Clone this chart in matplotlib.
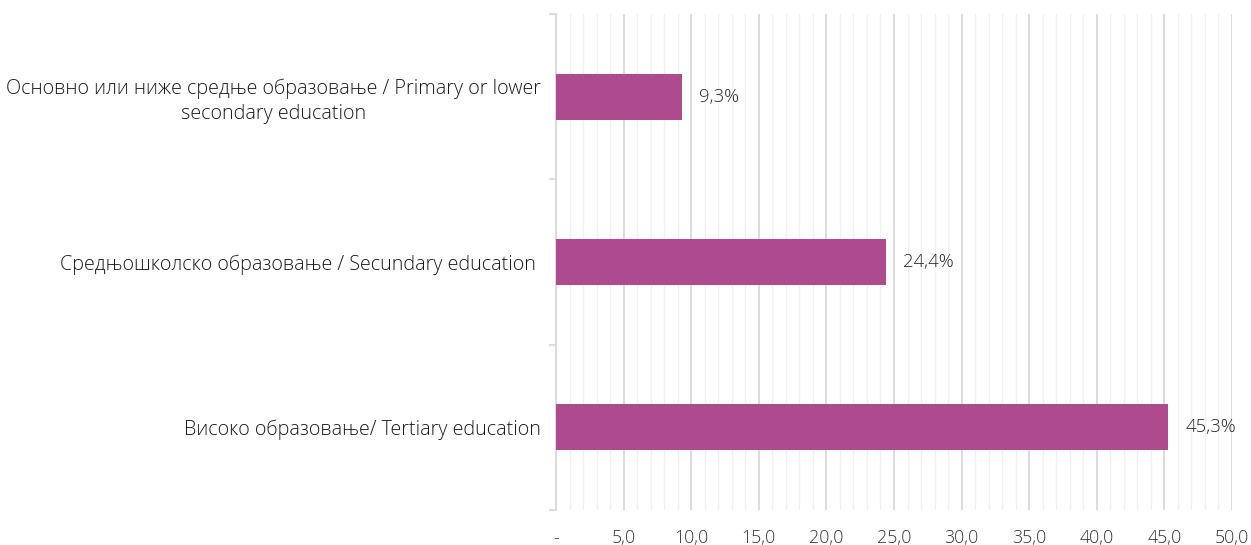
import matplotlib
matplotlib.use("Agg")
import matplotlib.pyplot as plt
from matplotlib.ticker import MultipleLocator, FixedLocator, FuncFormatter

categories = [
    "Основно или ниже средње образовање / Primary or lower\nsecondary education",
    "Средњошколско образовање / Secundary education ",
    "Високо образовање/ Tertiary education",
]
values = [9.3, 24.4, 45.3]
x_ticks = [0, 5, 10, 15, 20, 25, 30, 35, 40, 45, 50]

plt.rcParams['font.family'] = ['Open Sans', 'DejaVu Sans']

fig = plt.figure(figsize=(12.51, 5.45), dpi=100)
ax = fig.add_axes([556/1251, 1-510/545, (1232-556)/1251, (510-14)/545])

ypos = list(range(len(categories)))
bars = ax.barh(ypos, values, height=0.28, color='#AE4B8F', zorder=3)
for y, v in zip(ypos, values):
    ax.text(v + 1.3, y, f"{v:.1f}%".replace('.', ','), va='center', ha='left',
            fontsize=13.3, color='#262626', fontweight='light')

ax.set_xlim(0, 50)
ax.set_ylim(len(categories) - 0.5, -0.5)
ax.xaxis.set_major_locator(FixedLocator(x_ticks))
ax.xaxis.set_minor_locator(MultipleLocator(1))
ax.xaxis.set_major_formatter(FuncFormatter(lambda v, p: '-' if v == 0 else f"{v:.1f}".replace('.', ',')))
ax.grid(axis='x', which='major', color='#D9D9D9', linewidth=1.3, zorder=0)
ax.grid(axis='x', which='minor', color='#F0F0F0', linewidth=1.0, zorder=0)
ax.tick_params(axis='x', which='both', length=0, labelsize=12.8, labelcolor='#333333', pad=14)
for lbl in ax.get_xticklabels():
    lbl.set_fontweight('light')

ax.set_yticks(ypos)
ax.set_yticklabels(categories, fontsize=14.2, color='#1a1a1a', multialignment='center',
                   fontweight='light', linespacing=1.3)
ax.yaxis.set_minor_locator(FixedLocator([-0.5, 0.5, 1.5, 2.5]))
ax.tick_params(axis='y', which='major', length=0, pad=11)
ax.tick_params(axis='y', which='minor', length=5, color='#D9D9D9', width=1.3)

for s in ['top', 'right', 'bottom']:
    ax.spines[s].set_visible(False)
ax.spines['left'].set_color('#D9D9D9')
ax.spines['left'].set_linewidth(1.3)

fig.savefig('out.png', dpi=100)
